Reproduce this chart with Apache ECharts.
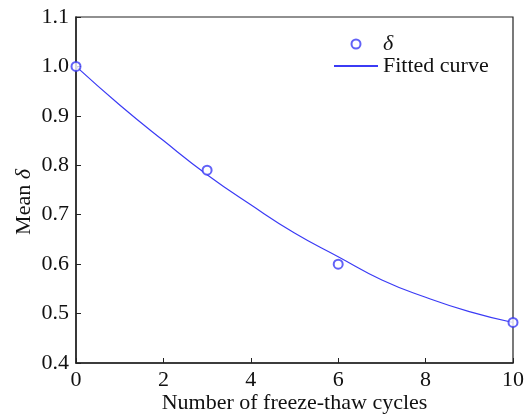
<!DOCTYPE html>
<html><head><meta charset="utf-8">
<script src="https://cdn.jsdelivr.net/npm/echarts@6/dist/echarts.min.js"></script>
<style>html,body{margin:0;padding:0;background:#fff}#c{width:526px;height:417px}</style>
</head><body><div id="c"></div>
<script>
var cyclesMeasured = [0, 3, 6, 10];
var deltaMeasured = [1.0, 0.79, 0.60, 0.482];
var cyclesFit = [0, 1, 2, 3, 4, 5, 6, 7, 8, 9, 10];
var deltaFit = [1.0, 0.922, 0.85, 0.781, 0.72, 0.663, 0.615, 0.568, 0.533, 0.504, 0.482];
var xTicks = [0, 2, 4, 6, 8, 10];
var yTicks = [0.4, 0.5, 0.6, 0.7, 0.8, 0.9, 1.0, 1.1];

var FONT = '"Liberation Serif", "Times New Roman", serif';
var BLUE = '#3b3bf5';
var chart = echarts.init(document.getElementById('c'));
chart.setOption({
  animation: false,
  textStyle: {fontFamily: FONT},
  grid: {left: 76, right: 13, top: 17, bottom: 54, show: true, borderColor: '#222', borderWidth: 1.2,
    containLabel: false, outerBoundsMode: 'none'},
  legend: {
    orient: 'vertical', left: 328, top: 28, itemWidth: 44, itemHeight: 9, itemGap: 0,
    textStyle: {fontFamily: FONT, fontSize: 22, color: '#111', padding: [0,0,0,0],
      rich: {i: {fontStyle: 'italic', fontFamily: FONT, fontSize: 22, color: '#111'}}},
    formatter: function (n) { return n === 'delta' ? '{i|δ}' : n; },
    data: [
      {name: 'delta', icon: 'emptyCircle'},
      {name: 'Fitted curve', itemStyle: {opacity: 0}}
    ]
  },
  xAxis: {
    type: 'value', min: 0, max: 10, interval: 2,
    name: 'Number of freeze-thaw cycles', nameLocation: 'middle', nameGap: 29, nameMoveOverlap: false,
    nameTextStyle: {fontFamily: FONT, fontSize: 22, color: '#111'},
    axisLine: {onZero: false, lineStyle: {color: '#222', width: 1.5}},
    axisTick: {inside: true, length: 5, lineStyle: {color: '#222'}},
    axisLabel: {fontFamily: FONT, fontSize: 22, color: '#111', margin: 6,
      formatter: function (v) { return xTicks.indexOf(v) >= 0 ? String(v) : ''; }},
    splitLine: {show: false}
  },
  yAxis: {
    type: 'value', min: 0.4, max: 1.1, interval: 0.1,
    name: '{n|Mean }{i|δ}', nameLocation: 'middle', nameGap: 41, nameMoveOverlap: false,
    nameTextStyle: {fontFamily: FONT, fontSize: 22, color: '#111', padding: [0, 24, 0, 0],
      rich: {n: {fontFamily: FONT, fontSize: 22, color: '#111'}, i: {fontFamily: FONT, fontSize: 22, fontStyle: 'italic', color: '#111'}}},
    axisLine: {show: true, lineStyle: {color: '#222', width: 1.5}},
    axisTick: {show: true, inside: true, length: 5, lineStyle: {color: '#222'}},
    axisLabel: {fontFamily: FONT, fontSize: 22, color: '#111', margin: 7,
      formatter: function (v) {
        var r = Math.round(v * 10) / 10;
        return yTicks.indexOf(r) >= 0 ? r.toFixed(1) : '';
      }},
    splitLine: {show: false}
  },
  series: [
    {
      name: 'Fitted curve', type: 'line', smooth: true, symbol: 'none',
      lineStyle: {color: BLUE, width: 1.2}, itemStyle: {color: BLUE},
      data: cyclesFit.map(function (x, i) { return [x, deltaFit[i]]; }), z: 2
    },
    {
      name: 'delta', type: 'scatter', symbol: 'emptyCircle', symbolSize: 9,
      itemStyle: {color: BLUE, borderColor: BLUE, borderWidth: 1.4},
      data: cyclesMeasured.map(function (x, i) { return [x, deltaMeasured[i]]; }), z: 3
    }
  ]
});
</script></body></html>
